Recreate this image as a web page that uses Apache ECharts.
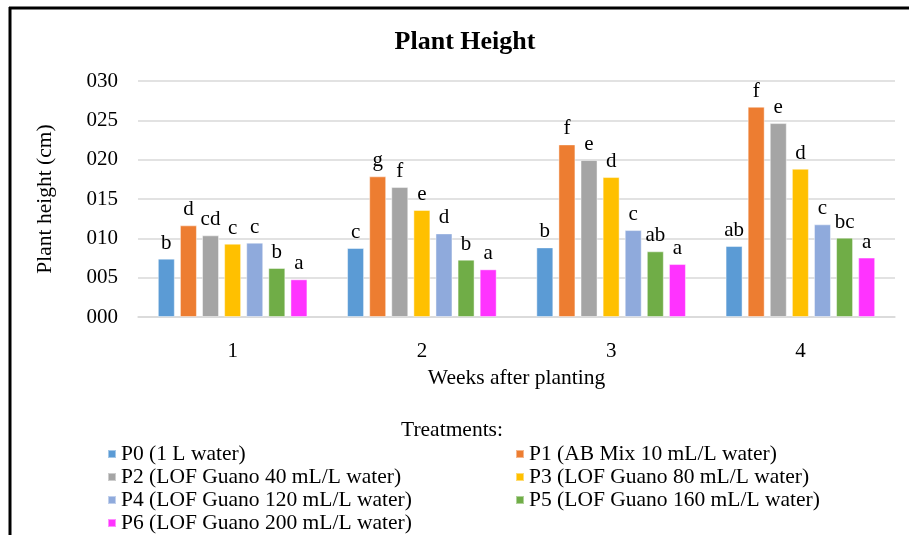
<!DOCTYPE html>
<html>
<head>
<meta charset="utf-8">
<script src="https://cdn.jsdelivr.net/npm/echarts@6/dist/echarts.min.js"></script>
<style>
html,body{margin:0;padding:0;background:#fff;}
#chart{width:909px;height:535px;}
</style>
</head>
<body>
<div id="chart"></div>
<script>
const weeks = ['1', '2', '3', '4'];
const yTickLabels = ['000', '005', '010', '015', '020', '025', '030'];
const seriesNames = [
  'P0 (1 L water)',
  'P1 (AB Mix 10 mL/L water)',
  'P2 (LOF Guano 40 mL/L water)',
  'P3 (LOF Guano 80 mL/L water)',
  'P4 (LOF Guano 120 mL/L water)',
  'P5 (LOF Guano 160 mL/L water)',
  'P6 (LOF Guano 200 mL/L water)'
];
const p0 = [7.42, 8.77, 8.85, 9.02];
const p1 = [11.65, 17.88, 21.94, 26.73];
const p2 = [10.38, 16.52, 19.95, 24.65];
const p3 = [9.32, 13.6, 17.79, 18.85];
const p4 = [9.45, 10.63, 11.05, 11.78];
const p5 = [6.23, 7.29, 8.35, 10.09];
const p6 = [4.79, 6.06, 6.73, 7.55];
const p0Letters = ['b', 'c', 'b', 'ab'];
const p1Letters = ['d', 'g', 'f', 'f'];
const p2Letters = ['cd', 'f', 'e', 'e'];
const p3Letters = ['c', 'e', 'd', 'd'];
const p4Letters = ['c', 'd', 'c', 'c'];
const p5Letters = ['b', 'b', 'ab', 'bc'];
const p6Letters = ['a', 'a', 'a', 'a'];
const colors = ['#5B9BD5', '#ED7D31', '#A5A5A5', '#FFC000', '#8FAADC', '#70AD47', '#FF33FF'];

const values = [p0, p1, p2, p3, p4, p5, p6];
const letters = [p0Letters, p1Letters, p2Letters, p3Letters, p4Letters, p5Letters, p6Letters];
const serif = "'Liberation Serif'";

const chart = echarts.init(document.getElementById('chart'), null, {renderer: 'canvas'});
const series = seriesNames.map((name, i) => ({
  name: name,
  type: 'bar',
  data: values[i],
  barWidth: 17,
  barGap: '30%',
  itemStyle: {color: colors[i], borderColor: 'rgba(255,255,255,0.45)', borderWidth: 1},
  label: {
    show: true,
    position: 'top',
    distance: 5,
    fontFamily: serif,
    fontSize: 21,
    color: '#000',
    formatter: p => letters[i][p.dataIndex]
  }
}));

const legendText = {fontFamily: serif, fontSize: 21.5, color: '#000', lineHeight: 21};
chart.setOption({
  animation: false,
  backgroundColor: '#fff',
  textStyle: {fontFamily: serif},
  title: [
    {text: 'Plant Height', left: 460, top: 24, textAlign: 'center',
     textStyle: {fontFamily: serif, fontSize: 26, fontWeight: 'bold', color: '#000'}},
    {text: 'Treatments:', left: 447, top: 414, textAlign: 'center',
     textStyle: {fontFamily: serif, fontSize: 21.5, fontWeight: 'normal', color: '#000'}}
  ],
  legend: [
    {data: [seriesNames[0], seriesNames[2], seriesNames[4], seriesNames[6]],
     orient: 'vertical', left: 107, top: 443, height: 150, itemWidth: 8, itemHeight: 8, itemGap: 1,
     icon: 'rect', textStyle: legendText, padding: 0},
    {data: [seriesNames[1], seriesNames[3], seriesNames[5]],
     orient: 'vertical', left: 515, top: 443, height: 150, itemWidth: 8, itemHeight: 8, itemGap: 1,
     icon: 'rect', textStyle: legendText, padding: 0}
  ],
  grid: {left: 138, right: 14, top: 81, bottom: 218, containLabel: false},
  xAxis: {
    type: 'category',
    data: weeks,
    name: 'Weeks after planting',
    nameLocation: 'middle',
    nameGap: 50,
    nameTextStyle: {fontFamily: serif, fontSize: 21.5, color: '#000'},
    axisLine: {lineStyle: {color: '#D9D9D9', width: 1.5}},
    axisTick: {show: false},
    axisLabel: {fontFamily: serif, fontSize: 21, color: '#000', margin: 24}
  },
  yAxis: {
    type: 'value',
    min: 0,
    max: 30,
    interval: 5,
    name: 'Plant height (cm)',
    nameLocation: 'middle',
    nameGap: 82,
    nameTextStyle: {fontFamily: serif, fontSize: 21.5, color: '#000'},
    axisLine: {show: false},
    axisTick: {show: false},
    splitLine: {lineStyle: {color: '#D9D9D9', width: 1.5}},
    axisLabel: {fontFamily: serif, fontSize: 21, color: '#000', margin: 20,
                formatter: v => yTickLabels[Math.round(v / 5)]}
  },
  graphic: [
    {type: 'line', shape: {x1: 9, y1: 8, x2: 909, y2: 8}, style: {stroke: '#000', lineWidth: 3}},
    {type: 'line', shape: {x1: 10, y1: 7, x2: 10, y2: 535}, style: {stroke: '#000', lineWidth: 3}}
  ],
  series: series
});
</script>
</body>
</html>
